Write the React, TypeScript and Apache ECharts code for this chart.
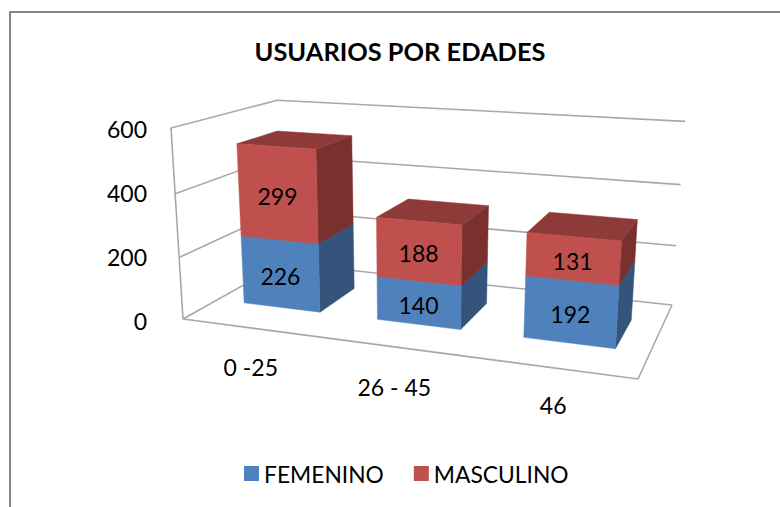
import React, { useEffect, useRef } from "react";
import * as echarts from "echarts";

const categories = ["0 -25", "26 - 45", "46"];
const femenino = [226, 140, 192];
const masculino = [299, 188, 131];
const yTicks = [0, 200, 400, 600];

const FONT = "Lato";
type Pt = [number, number];
// Corners of the perspective box floor: front-left, front-right, back-right, back-left
const floorQuad: Pt[] = [[183, 319], [638, 379], [672, 305], [283, 263]];
// Where the top of the value range lands above the front-left and back-right corners
const topFrontLeft: Pt = [171, 128];
const topBackRight: Pt = [685, 120];
const BAR_FRACTION = 0.58;
const DEPTH_FRONT = 0.31;
const DEPTH_BACK = 0.71;

function solveCamera() {
  const [[x0, y0], [x1, y1], [x2, y2], [x3, y3]] = floorQuad;
  const dx1 = x1 - x2, dx2 = x3 - x2, sx = x0 - x1 + x2 - x3;
  const dy1 = y1 - y2, dy2 = y3 - y2, sy = y0 - y1 + y2 - y3;
  const den = dx1 * dy2 - dx2 * dy1;
  const g = (sx * dy2 - dx2 * sy) / den;
  const h = (dx1 * sy - sx * dy1) / den;
  const a = x1 - x0 + g * x1, b = x3 - x0 + h * x3, c = x0;
  const d = y1 - y0 + g * y1, e = y3 - y0 + h * y3, f = y0;
  // p, q, r: contribution of height to x, y and the perspective divisor
  const D = 1 + g + h;
  const r = (x2 * D + topFrontLeft[0] - c - topBackRight[0] * D) / (topBackRight[0] - topFrontLeft[0]);
  const p = topFrontLeft[0] * (1 + r) - c;
  const q = topFrontLeft[1] * (1 + r) - f;
  return { a, b, c, d, e, f, g, h, p, q, r };
}
const CAM = solveCamera();
function project(u: number, v: number, w: number): Pt {
  const C = CAM;
  const k = C.g * u + C.h * v + C.r * w + 1;
  return [(C.a * u + C.b * v + C.c + C.p * w) / k, (C.d * u + C.e * v + C.f + C.q * w) / k];
}

function norm(params: any, api: any, cat: number, val: number) {
  const cs = params.coordSys;
  const c = api.coord([cat, val]);
  return { u: (c[0] - cs.x) / cs.width, w: (cs.y + cs.height - c[1]) / cs.height };
}

function barRender(baseOf: (i: number) => number, front: string, side: string, top: string) {
  return (params: any, api: any) => {
    const i = api.value(0);
    const val = api.value(1);
    const base = baseOf(i);
    const cs = params.coordSys;
    const lo = norm(params, api, i, base);
    const hi = norm(params, api, i, base + val);
    const half = (api.size([1, 0])[0] / cs.width) * BAR_FRACTION / 2;
    const u0 = lo.u - half, u1 = lo.u + half;
    const F = DEPTH_FRONT, B = DEPTH_BACK;
    const poly = (pts: Pt[], fill: string) => ({
      type: "polygon", shape: { points: pts }, style: { fill, stroke: fill, lineWidth: 0.5 },
    });
    const centre = project(lo.u, F, (lo.w + hi.w) / 2);
    return {
      type: "group",
      children: [
        poly([project(u1, F, lo.w), project(u1, B, lo.w), project(u1, B, hi.w), project(u1, F, hi.w)], side),
        poly([project(u0, F, hi.w), project(u1, F, hi.w), project(u1, B, hi.w), project(u0, B, hi.w)], top),
        poly([project(u0, F, lo.w), project(u1, F, lo.w), project(u1, F, hi.w), project(u0, F, hi.w)], front),
        {
          type: "text",
          x: centre[0], y: centre[1] + 2,
          style: { text: String(val), fill: "#000", font: `23px ${FONT}`, align: "center", verticalAlign: "middle" },
        },
      ],
    };
  };
}

function wallRender(params: any, api: any) {
  const tick = api.value(1);
  const { w } = norm(params, api, 0, tick);
  const stroke = { stroke: "#a8a8a8", lineWidth: 1.6, fill: "none" };
  const children: any[] = [];
  const pl = (pts: Pt[]) => children.push({ type: "polyline", shape: { points: pts }, style: stroke });
  pl([project(0, 0, w), project(0, 1, w), project(1, 1, w)]);
  if (tick === 0) {
    pl([project(0, 0, 0), project(1, 0, 0), project(1, 1, 0)]);
    pl([project(0, 0, 0), project(0, 0, 1)]);
  }
  return { type: "group", children };
}

const catLabelShift: Pt[] = [[1, 39], [1, 40], [1, 37]];
function catLabelRender(params: any, api: any) {
  const i = api.value(0);
  const { u } = norm(params, api, i, 0);
  const p = project(u, 0, 0);
  return {
    type: "text",
    x: p[0] + catLabelShift[i][0], y: p[1] + catLabelShift[i][1],
    style: { text: categories[i], fill: "#000", font: `23px ${FONT}`, align: "center", verticalAlign: "middle" },
  };
}

export default function App() {
  const ref = useRef<HTMLDivElement>(null);
  useEffect(() => {
    const chart = echarts.init(ref.current!, undefined, { renderer: "svg" });
    const frame = { stroke: "#868686", lineWidth: 2 };
    chart.setOption({
      animation: false,
      backgroundColor: "#fff",
      title: {
        text: "USUARIOS POR EDADES",
        left: 395, top: 33, textAlign: "center",
        textStyle: { fontFamily: FONT, fontWeight: "bold", fontSize: 25.4, color: "#000" },
      },
      legend: {
        left: 244, top: 462, padding: 0, icon: "rect", itemWidth: 15, itemHeight: 15, itemGap: 30,
        textStyle: { fontFamily: FONT, fontSize: 22.8, color: "#000" },
        data: ["FEMENINO", "MASCULINO"],
      },
      grid: { left: 160, top: 129, width: 480, height: 192 },
      xAxis: {
        type: "category", data: categories,
        axisLine: { show: false }, axisTick: { show: false }, axisLabel: { show: false },
      },
      yAxis: {
        type: "value", min: 0, max: 600, interval: 200,
        axisLine: { show: false }, axisTick: { show: false }, splitLine: { show: false },
        axisLabel: { margin: 13, fontFamily: FONT, fontSize: 23, color: "#000" },
      },
      graphic: [
        { type: "line", shape: { x1: 11, y1: 12, x2: 780, y2: 12 }, style: frame },
        { type: "line", shape: { x1: 10, y1: 11, x2: 10, y2: 507 }, style: frame },
      ],
      series: [
        {
          type: "custom", name: "walls", renderItem: wallRender, silent: true,
          encode: { x: 0, y: 1 }, data: yTicks.map((t) => [0, t]),
        },
        {
          type: "custom", name: "FEMENINO", itemStyle: { color: "#4F81BD" },
          renderItem: barRender(() => 0, "#4F81BD", "#34547C", "#3F6797"),
          encode: { x: 0, y: 1 }, data: femenino.map((v, i) => [i, v]),
        },
        {
          type: "custom", name: "MASCULINO", itemStyle: { color: "#C0504D" },
          renderItem: barRender((i) => femenino[i], "#C0504D", "#7A302E", "#8E3A38"),
          encode: { x: 0, y: 1 }, data: masculino.map((v, i) => [i, v]),
        },
        {
          type: "custom", name: "catLabels", renderItem: catLabelRender, silent: true,
          encode: { x: 0, y: 1 }, data: categories.map((_, i) => [i, 0]),
        },
      ],
    });
    return () => chart.dispose();
  }, []);
  return <div ref={ref} style={{ position: "absolute", left: 0, top: 0, width: 780, height: 507 }} />;
}
